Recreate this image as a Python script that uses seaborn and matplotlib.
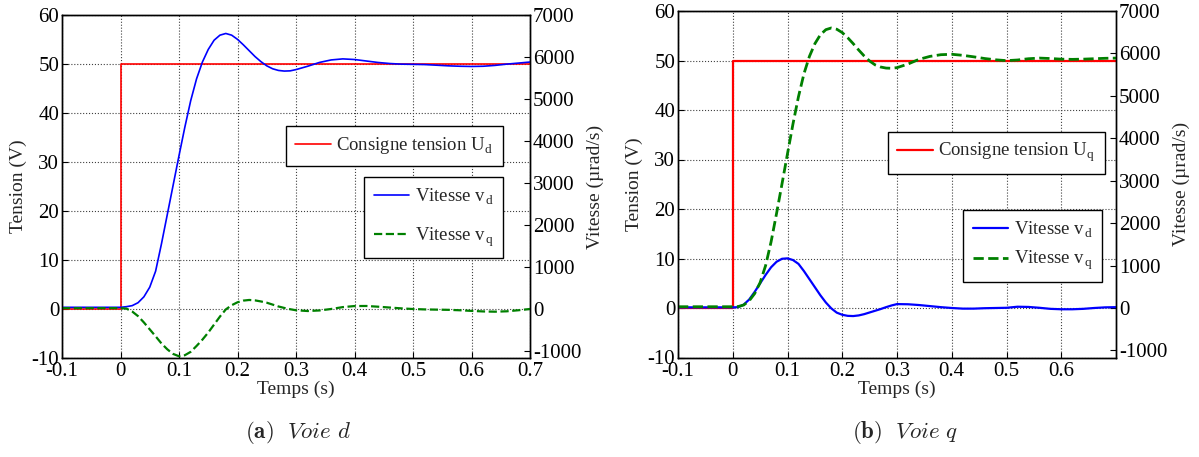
import matplotlib
matplotlib.use("Agg")
import matplotlib.pyplot as plt
import seaborn as sns
import pandas as pd
import numpy as np

# time bases (s)
t_step = [-0.1, 0.0, 0.0, 0.7]
u_step = [0, 0, 50, 50]

t = [-0.1, 0.0, 0.01, 0.02, 0.03, 0.04, 0.05, 0.06, 0.07, 0.08, 0.09,
     0.10, 0.11, 0.12, 0.13, 0.14, 0.15, 0.16, 0.17, 0.18, 0.19,
     0.20, 0.21, 0.22, 0.23, 0.24, 0.25, 0.26, 0.27, 0.28, 0.29, 0.30,
     0.32, 0.34, 0.36, 0.38, 0.40, 0.42, 0.44, 0.46, 0.48, 0.50,
     0.52, 0.54, 0.56, 0.58, 0.60, 0.62, 0.64, 0.66, 0.68, 0.70]

# (a) Voie d  -- vitesses en urad/s
vd_a = [40, 40, 55, 80, 150, 290, 520, 900, 1550, 2250, 2950,
        3650, 4330, 4960, 5480, 5880, 6180, 6400, 6520, 6560, 6520,
        6420, 6290, 6150, 6010, 5890, 5790, 5720, 5680, 5665, 5670, 5700,
        5780, 5870, 5930, 5955, 5940, 5905, 5870, 5845, 5830, 5825,
        5820, 5805, 5790, 5780, 5775, 5780, 5800, 5830, 5855, 5880]
vq_a = [20, 20, 10, -60, -170, -320, -485, -650, -820, -960, -1070,
        -1125, -1100, -1020, -880, -730, -560, -370, -180, -10, 90,
        160, 200, 215, 205, 180, 150, 105, 60, 25, -5, -30,
        -48, -35, 0, 45, 70, 72, 55, 35, 15, 0,
        -10, -15, -20, -30, -45, -58, -64, -55, -30, 0]

# (b) Voie q
vd_b = [15, 15, 20, 80, 200, 380, 580, 780, 960, 1090, 1160,
        1170, 1130, 1040, 870, 680, 490, 300, 130, -10, -110,
        -160, -185, -190, -175, -145, -105, -65, -25, 20, 60, 92,
        88, 70, 45, 20, 0, -15, -15, -5, 0, 5,
        30, 25, 5, -20, -30, -30, -20, 0, 15, 20]
vq_b = [30, 30, 35, 70, 170, 340, 600, 1000, 1560, 2230, 2930,
        3640, 4340, 4980, 5520, 5930, 6230, 6440, 6560, 6600, 6570,
        6490, 6370, 6230, 6080, 5940, 5820, 5730, 5680, 5655, 5650, 5665,
        5750, 5860, 5930, 5970, 5980, 5955, 5920, 5880, 5850, 5830,
        5845, 5875, 5890, 5880, 5865, 5860, 5865, 5875, 5885, 5890]

sns.set_style("ticks")
plt.rcParams['font.family'] = ['Liberation Serif', 'DejaVu Serif']
plt.rcParams['mathtext.fontset'] = 'cm'
plt.rcParams['axes.unicode_minus'] = False
plt.rcParams['font.size'] = 13

fig = plt.figure(figsize=(11.99, 4.57), dpi=100)
W, H = 1199, 457


def frac(x0, y0, x1, y1):
    return [x0 / W, 1 - y1 / H, (x1 - x0) / W, (y1 - y0) / H]


def panel(rect, vd, vq, sub, lw, xmax, xticks, leg1, leg2, spacing,
          caption, cap_x):
    ax = fig.add_axes(rect)
    ax2 = ax.twinx()
    df = pd.DataFrame({"t": t, "vd": vd, "vq": vq})
    step = pd.DataFrame({"t": t_step, "u": u_step})
    sns.lineplot(data=step, x="t", y="u", ax=ax, color="#ff0000", lw=lw,
                 estimator=None, sort=False, legend=False)
    sns.lineplot(data=df, x="t", y="vd", ax=ax2, color="#0000ff", lw=lw,
                 estimator=None, sort=False, legend=False)
    sns.lineplot(data=df, x="t", y="vq", ax=ax2, color="#008000", lw=lw + 0.4,
                 linestyle="--", estimator=None, sort=False, legend=False)

    ax.set_xlim(-0.1, xmax)
    ax.set_ylim(-10, 60)
    ax2.set_ylim(-7000 / 6, 7000)
    ax.set_xticks(xticks)
    ax.set_xticklabels([("%g" % v) for v in xticks])
    ax.set_yticks(range(-10, 61, 10))
    ax2.set_yticks(range(-1000, 7001, 1000))
    ax.grid(True, color="0.25", linestyle=":", lw=0.8)
    for a in (ax, ax2):
        a.tick_params(direction="in", length=4, width=0.8, pad=2,
                      labelsize=15, colors="black")
        for s in a.spines.values():
            s.set_color("black")
            s.set_linewidth(1.0)
    ax.tick_params(axis="x", pad=3)
    ax.set_xlabel("Temps (s)", fontsize=14, labelpad=0)
    ax.set_ylabel("Tension (V)", fontsize=14, labelpad=3)
    ax2.set_ylabel("Vitesse (µrad/s)", fontsize=14, labelpad=4)

    h_u = ax.lines[0]
    h_d, h_q = ax2.lines[0], ax2.lines[1]
    l1 = ax2.legend([h_u], ["Consigne tension U$_\\mathregular{%s}$" % sub],
                    loc="upper right", bbox_to_anchor=leg1,
                    bbox_transform=fig.transFigure, borderaxespad=0,
                    fancybox=False, framealpha=1, edgecolor="black",
                    fontsize=13.5, handlelength=1.9, handletextpad=0.3,
                    borderpad=0.5)
    l1.get_frame().set_linewidth(1.0)
    ax2.add_artist(l1)
    l2 = ax2.legend([h_d, h_q], ["Vitesse v$_\\mathregular{d}$",
                                 "Vitesse v$_\\mathregular{q}$"],
                    loc="upper right", bbox_to_anchor=leg2,
                    bbox_transform=fig.transFigure, borderaxespad=0,
                    fancybox=False, framealpha=1, edgecolor="black",
                    fontsize=13.5, handlelength=1.9, handletextpad=0.3,
                    borderpad=0.5, labelspacing=spacing)
    l2.get_frame().set_linewidth(1.0)
    fig.text(cap_x, 1 - 432 / H, caption, ha="center", va="center",
             fontsize=16.5)


panel(frac(62, 15, 530, 358), vd_a, vq_a, "d", 1.2, 0.7,
      [-0.1, 0, 0.1, 0.2, 0.3, 0.4, 0.5, 0.6, 0.7],
      (503 / W, 1 - 126 / H), (503 / W, 1 - 177 / H), 1.0,
      r"$\mathbf{(a)}\ \ \mathit{Voie\ d}$", 298 / W)
panel(frac(678, 11, 1116, 357.5), vd_b, vq_b, "q", 1.6, 0.6999,
      [-0.1, 0, 0.1, 0.2, 0.3, 0.4, 0.5, 0.6],
      (1105 / W, 1 - 131.7 / H), (1102 / W, 1 - 210 / H), 0.5,
      r"$\mathbf{(b)}\ \ \mathit{Voie\ q}$", 905 / W)

fig.savefig("out.png", dpi=100)
